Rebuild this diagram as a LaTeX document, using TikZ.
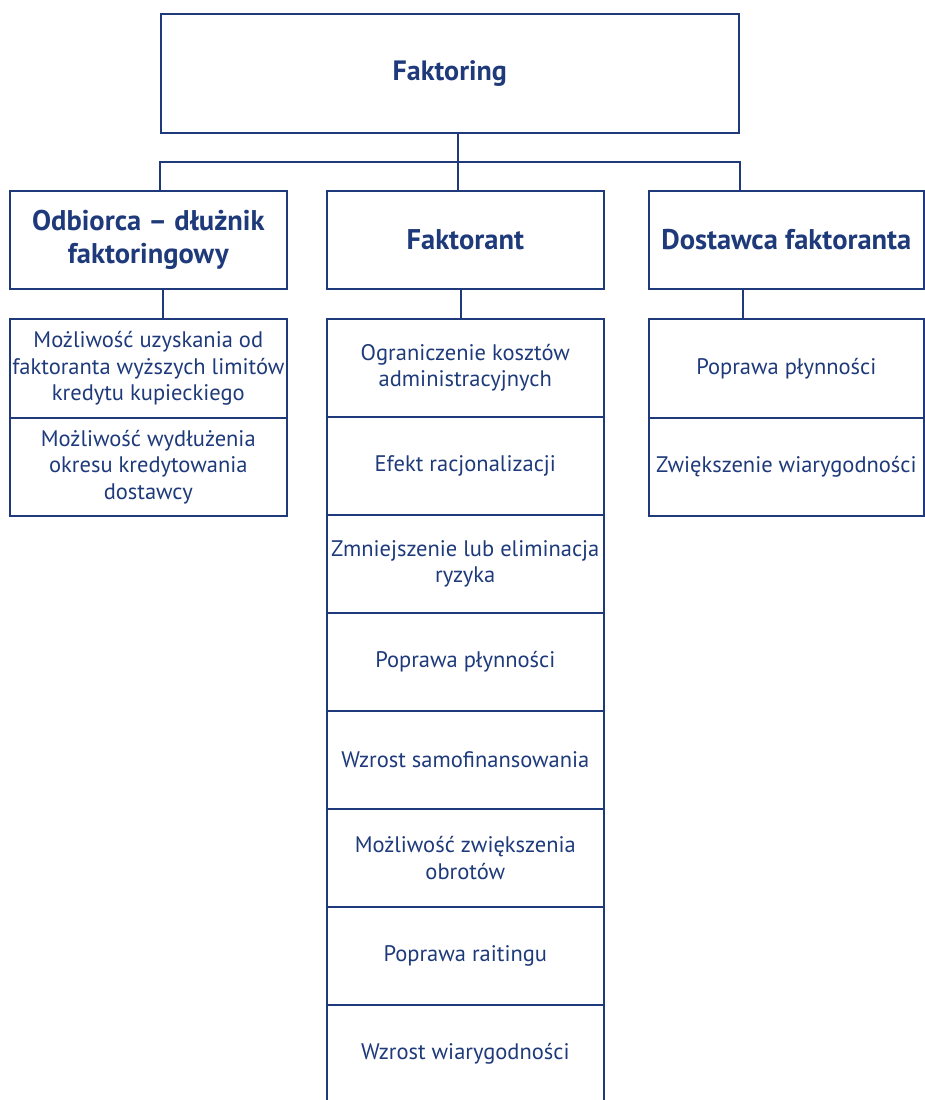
\documentclass[tikz,border=0pt]{standalone}
\usepackage{fontspec}
\setmainfont{PT Sans}
\definecolor{navy}{RGB}{30,58,122}
\begin{document}
\begin{tikzpicture}[x=1pt,y=-1pt,
  every node/.style={text=navy, align=center, inner sep=0pt,
    font=\fontsize{22.5}{26.5}\selectfont},
  cell/.style={draw=navy, line width=1.6pt, anchor=north west,
    minimum width=277pt, minimum height=98pt},
  head/.style={cell, font=\fontsize{28.5}{33}\selectfont\bfseries},
  link/.style={draw=navy, line width=1.6pt}]
\useasboundingbox (0,0) rectangle (924,1100);

% root
\node[cell, minimum width=578pt, minimum height=119pt,
  font=\fontsize{28}{32}\selectfont\bfseries] (top) at (160,13) {Faktoring};

% column heads
\node[head] (hL) at (9,190) {Odbiorca – dłużnik\\faktoringowy};
\node[head] (hM) at (326,190) {Faktorant};
\node[head, minimum width=275pt] (hR) at (648,190) {Dostawca faktoranta};

% left column
\node[cell, minimum height=99pt] (l1) at (9,318)
  {Możliwość uzyskania od\\faktoranta wyższych limitów\\kredytu kupieckiego};
\node[cell] (l2) at (9,417) {Możliwość wydłużenia\\okresu kredytowania\\dostawcy};

% middle column
\node[cell] (m1) at (326,318) {Ograniczenie kosztów\\administracyjnych};
\node[cell] (m2) at (326,416) {Efekt racjonalizacji};
\node[cell] (m3) at (326,514) {Zmniejszenie lub eliminacja\\ryzyka};
\node[cell] (m4) at (326,612) {Poprawa płynności};
\node[cell] (m5) at (326,710) {Wzrost samofinansowania};
\node[cell] (m6) at (326,808) {Możliwość zwiększenia\\obrotów};
\node[cell] (m7) at (326,906) {Poprawa raitingu};
\node[cell] (m8) at (326,1004) {Wzrost wiarygodności};

% right column
\node[cell, minimum width=275pt, minimum height=99pt] (r1) at (648,318) {Poprawa płynności};
\node[cell, minimum width=275pt] (r2) at (648,417) {Zwiększenie wiarygodności};

% bus between root and heads
\coordinate (busL) at (160,162);
\coordinate (busM) at (458,162);
\coordinate (busR) at (740,162);
\draw[link] (top.south -| busM) -- (busM);
\draw[link] (hL.north -| busL) -- (busL) -- (busR) -- (hR.north -| busR);
\draw[link] (busM) -- (hM.north -| busM);

% stems from heads to their lists
\coordinate (sL) at (163,300);
\coordinate (sM) at (461,300);
\coordinate (sR) at (743,300);
\draw[link] (hL.south -| sL) -- (l1.north -| sL);
\draw[link] (hM.south -| sM) -- (m1.north -| sM);
\draw[link] (hR.south -| sR) -- (r1.north -| sR);
\end{tikzpicture}
\end{document}
